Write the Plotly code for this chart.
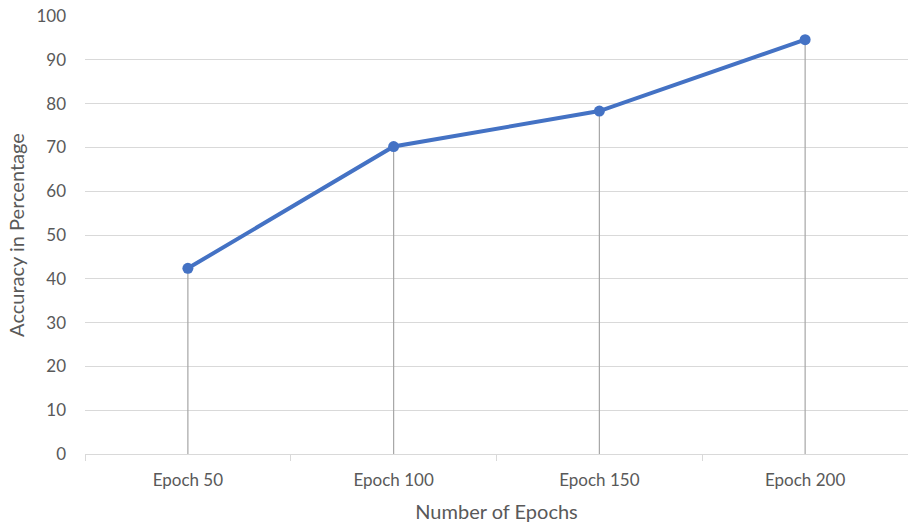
import plotly.graph_objects as go

# Accuracy per training length
epochs = ["Epoch 50", "Epoch 100", "Epoch 150", "Epoch 200"]
accuracy = [42.4, 70.2, 78.3, 94.6]
y_ticks = [0, 10, 20, 30, 40, 50, 60, 70, 80, 90, 100]

FONT = "Lato"
TEXT = "#595959"
GRID = "#d9d9d9"

# vertical drop lines from each point to the baseline
drop_x, drop_y = [], []
for e, a in zip(epochs, accuracy):
    drop_x += [e, e, None]
    drop_y += [0, a, None]

fig = go.Figure()
fig.add_trace(go.Scatter(
    x=drop_x, y=drop_y, mode="lines",
    line=dict(color="#a6a6a6", width=1.2),
    hoverinfo="skip", showlegend=False,
))
fig.add_trace(go.Scatter(
    x=epochs, y=accuracy, mode="lines+markers",
    line=dict(color="#4472C4", width=4),
    marker=dict(color="#4472C4", size=11),
    showlegend=False,
))

fig.update_layout(
    width=908, height=525,
    margin=dict(l=85, r=0, t=16, b=71),
    paper_bgcolor="white", plot_bgcolor="white",
    font=dict(family=FONT, size=17, color=TEXT),
    xaxis=dict(
        type="category", range=[-0.5, 3.5],
        showgrid=False, showline=True, linecolor=GRID, linewidth=1.3,
        ticks="outside", tickson="boundaries", ticklen=6, tickcolor=GRID,
        ticklabelstandoff=10,
        title=dict(text="Number of Epochs", font=dict(family=FONT, size=20, color=TEXT), standoff=16),
    ),
    yaxis=dict(
        range=[0, 100], tickvals=y_ticks,
        showgrid=True, gridcolor=GRID, gridwidth=1.3,
        zeroline=False, showline=False, ticks="",
        ticklabelstandoff=18,
        title=dict(text="Accuracy in Percentage", font=dict(family=FONT, size=20, color=TEXT), standoff=6),
    ),
)

fig.write_html("out.html")
